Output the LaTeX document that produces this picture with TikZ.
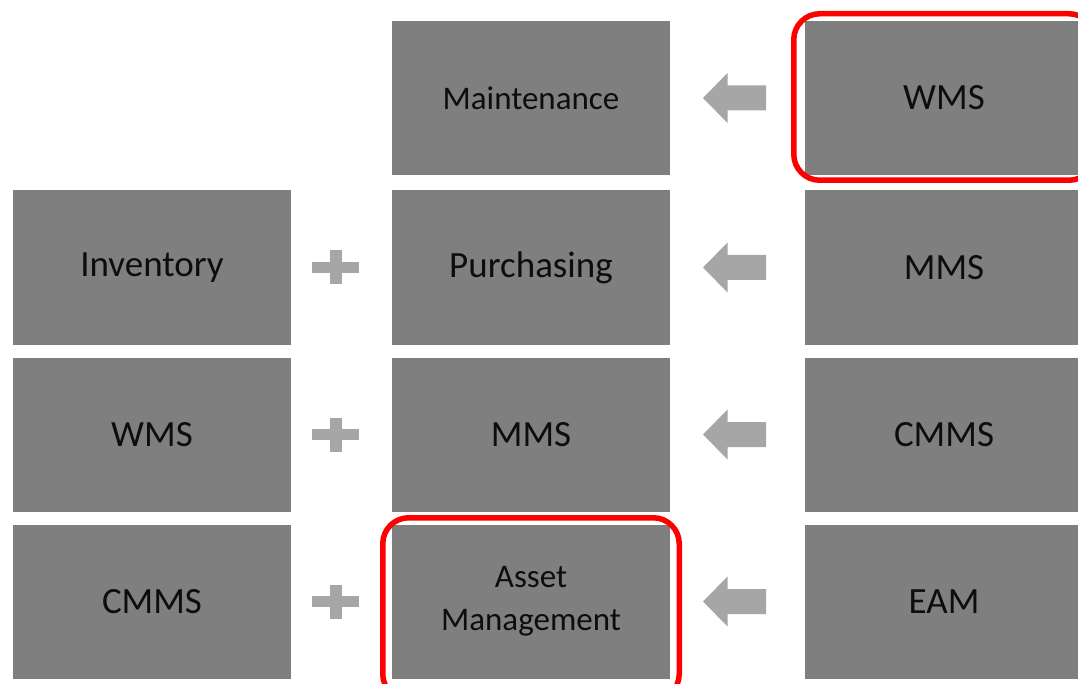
\documentclass[tikz,border=0pt]{standalone}
\usepackage{fontspec}
\setmainfont{Carlito}
\definecolor{boxgray}{HTML}{7F7F7F}
\definecolor{signgray}{HTML}{A6A6A6}
\definecolor{txt}{HTML}{0D0D0D}
\definecolor{hl}{HTML}{FF0000}
\tikzset{
  blk/.style={fill=boxgray, draw=none, minimum width=278pt, minimum height=154pt, inner sep=0pt, text=txt, align=center, font=\fontsize{37}{44}\selectfont},
  blksmall/.style={blk, font=\fontsize{33}{43}\selectfont},
  sign/.style={fill=signgray, draw=none},
  hilite/.style={draw=hl, line width=5.5pt, rounded corners=26pt}
}
\begin{document}
\begin{tikzpicture}[x=1pt,y=-1pt]
\useasboundingbox (0,0) rectangle (1078,684);
\clip (0,0) rectangle (1078,684);
% boxes
\node[blksmall] (maint) at (531,98) {\raisebox{-2pt}{Maintenance}};
\node[blk] (wms1) at (944,98) {\raisebox{-2pt}{WMS}};
\node[blk] (inv) at (152,267.5) {\raisebox{-2pt}{Inventory}};
\node[blk] (purch) at (531,267.5) {\raisebox{-2pt}{Purchasing}};
\node[blk] (mms1) at (944,267.5) {\raisebox{-2pt}{MMS}};
\node[blk] (wms2) at (152,434.5) {\raisebox{-2pt}{WMS}};
\node[blk] (mms2) at (531,434.5) {\raisebox{-2pt}{MMS}};
\node[blk] (cmms1) at (944,434.5) {\raisebox{-2pt}{CMMS}};
\node[blk] (cmms2) at (152,601.5) {\raisebox{-2pt}{CMMS}};
\node[blksmall] (asset) at (531,601.5) {Asset\\Management};
\node[blk] (eam) at (944,601.5) {\raisebox{-2pt}{EAM}};
% arrows (block arrows pointing left)
\foreach \yy in {98,267.5,434.5,601.5}{
  \fill[sign] (703,\yy) -- (727.5,\yy-25) -- (727.5,\yy-12.5) -- (766,\yy-12.5)
    -- (766,\yy+12.5) -- (727.5,\yy+12.5) -- (727.5,\yy+25) -- cycle;
}
% plus signs
\foreach \yy in {267.5,434.5,601.5}{
  \fill[sign] (312,\yy-5.5) rectangle (359,\yy+5.5);
  \fill[sign] (330,\yy-17) rectangle (342,\yy+17);
}
% highlights
\draw[hilite] (793.75,13.75) rectangle (1095,180.25);
\draw[hilite] (382.75,517.75) rectangle (679.25,700);
\end{tikzpicture}
\end{document}
